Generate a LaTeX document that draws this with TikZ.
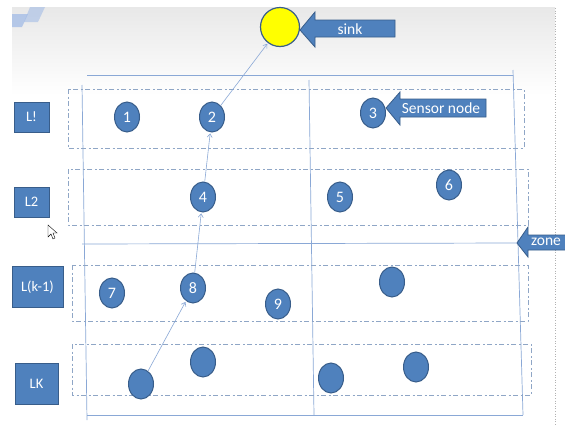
\documentclass[tikz,border=0pt]{standalone}
\usepackage{fontspec}
\setmainfont{Carlito}
\usetikzlibrary{arrows.meta,shapes.geometric}
\definecolor{nodeblue}{HTML}{4F81BD}
\definecolor{nodeedge}{HTML}{385D8A}
\definecolor{zoneline}{HTML}{8AA8D6}
\definecolor{layerline}{HTML}{8FA6C6}
\definecolor{sinkyellow}{HTML}{FFFF00}
\definecolor{logoblue}{HTML}{9DB8E6}
\begin{document}
\begin{tikzpicture}[x=1pt,y=-1pt,
  sensor/.style={ellipse,fill=nodeblue,draw=nodeedge,line width=1pt,minimum width=25pt,minimum height=30pt,inner sep=0pt,text=white,font=\fontsize{16}{16}\selectfont},
  layerlabel/.style={rectangle,fill=nodeblue,draw=nodeedge,line width=0.8pt,text=white,inner sep=0pt,font=\fontsize{14.5}{14.5}\selectfont},
  zonestroke/.style={draw=zoneline,line width=0.7pt},
  layerbox/.style={draw=layerline,line width=0.7pt,dash pattern=on 5pt off 2.5pt on 2pt off 2.5pt},
  link/.style={draw=zoneline,line width=0.6pt,-{Straight Barb[length=3.5pt,width=5pt]},shorten >=1pt},
  blockarrow/.style={fill=nodeblue,draw=nodeedge,line width=0.8pt},
  arrowtext/.style={text=white,inner sep=0pt,font=\fontsize{15.5}{15.5}\selectfont}
]
\useasboundingbox (0,0) rectangle (565,426);
\fill[white] (0,0) rectangle (565,426);
% slide background
\shade[top color=black!9,bottom color=white] (12,7) rectangle (555,95);
% faint template logo
\fill[logoblue,opacity=0.7] (12,14) -- (28,14) -- (22,27) -- (12,27) -- cycle;
\fill[logoblue,opacity=0.55] (30,7) -- (45,7) -- (38,22) -- (24,22) -- cycle;
% right slide edge
\draw[black!30,line width=0.6pt,dotted] (555,8) -- (555,426);

% zone grid
\draw[zonestroke] (87,75) -- (513,75);
\draw[zonestroke] (82,85) -- (87,420);
\draw[zonestroke] (513,70) -- (523,415);
\draw[zonestroke] (87,415) -- (523,415);
\draw[zonestroke] (309,80) -- (314,415);
\draw[zonestroke] (82,244) -- (517,243);

% layers
\draw[layerbox] (68,89) rectangle (524,148);
\draw[layerbox] (68,169) rectangle (528,225);
\draw[layerbox] (72,265) rectangle (528,321);
\draw[layerbox] (72,344) rectangle (531,395);

% layer labels
\node[layerlabel,minimum width=35pt,minimum height=30pt] (lone) at (31.5,117) {L!};
\node[layerlabel,minimum width=35pt,minimum height=30pt] (ltwo) at (31.5,202) {L2};
\node[layerlabel,minimum width=51pt,minimum height=41pt] (lkm) at (37.5,287) {L(k-1)};
\node[layerlabel,minimum width=43pt,minimum height=41pt] (lk) at (36.5,384) {LK};

% sink
\node[circle,fill=sinkyellow,draw=nodeedge,line width=1.2pt,minimum width=39pt,inner sep=0pt] (sink) at (280,27) {};

% sensor nodes
\node[sensor] (n1) at (127,117) {1};
\node[sensor] (n2) at (212,117) {2};
\node[sensor] (n3) at (373,113) {3};
\node[sensor] (n4) at (203,197) {4};
\node[sensor] (n5) at (340,197) {5};
\node[sensor] (n6) at (449,185) {6};
\node[sensor] (n7) at (112,293) {7};
\node[sensor] (n8) at (193,288) {8};
\node[sensor] (n9) at (278,304) {9};
\node[sensor] (na) at (141,384) {};
\node[sensor] (nb) at (203,362) {};
\node[sensor] (nc) at (392,282) {};
\node[sensor] (nd) at (331,378) {};
\node[sensor] (ne) at (416,367) {};

% routing path
\draw[link] (na) -- (n8);
\draw[link] (n8) -- (n4);
\draw[link] (n4) -- (n2);
\draw[link] (n2) -- (sink);

% callout arrows
\draw[blockarrow] (300,30) -- (315,12) -- (315,20) -- (395,20) -- (395,37) -- (315,37) -- (315,47) -- cycle;
\node[arrowtext] (sinklabel) at (350,29) {sink};

\draw[blockarrow] (386,108) -- (400,92) -- (400,99) -- (486,99) -- (486,117) -- (400,117) -- (400,125) -- cycle;
\node[arrowtext] (sensorlabel) at (441,108) {Sensor node};

\draw[blockarrow] (517,243) -- (528,227) -- (528,235) -- (568,235) -- (568,250) -- (528,250) -- (528,257) -- cycle;
\node[arrowtext] (zonelabel) at (546,242) {zone};

% mouse cursor
\draw[black,line width=0.4pt,fill=white] (48,225) -- (48,237) -- (51,234) -- (53,239) -- (55,238) -- (53,233) -- (57,233) -- cycle;
\end{tikzpicture}
\end{document}
